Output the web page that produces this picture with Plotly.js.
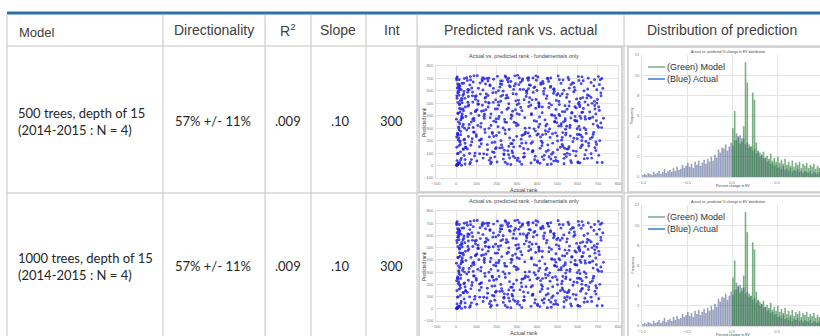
<!DOCTYPE html>
<html><head><meta charset="utf-8">
<script src="https://cdn.plot.ly/plotly-3.0.1.min.js"></script>
<style>html,body{margin:0;padding:0;overflow:hidden;background:#fff;width:820px;height:336px}#chart{width:840px;height:336px}</style>
</head><body><div id="chart"></div>
<script>
// ---------- data ----------
const headers = ["Model", "Directionality", "R<sup>2</sup>", "Slope", "Int", "Predicted rank vs. actual", "Distribution of prediction"];
const modelNames = ["500 trees, depth of 15<br>(2014-2015 : N = 4)", "1000 trees, depth of 15<br>(2014-2015 : N = 4)"];
const directionality = ["57% +/- 11%", "57% +/- 11%"];
const rSquared = [".009", ".009"];
const slope = [".10", ".10"];
const intercept = ["300", "300"];

const actualRank = [
 5,12,8,20,33,15,27,41,9,18,36,24,3,45,30,11,22,38,14,6,28,43,17,35,2,25,40,10,19,32,7,46,21,13,37,29,4,16,44,26,
 1,3,6,9,12,15,4,8,
 52,67,81,95,58,73,88,62,99,77,55,91,70,84,60,97,64,79,93,57,86,75,
 104,118,132,146,110,125,139,107,143,121,115,136,102,128,149,112,141,124,133,108,
 153,167,181,195,158,172,186,162,199,177,155,191,170,184,160,197,164,179,193,157,
 204,218,232,246,210,225,239,207,243,221,215,236,202,228,249,212,241,224,233,208,
 253,267,281,295,258,272,286,262,299,277,255,291,270,284,260,297,264,279,293,257,
 304,318,332,346,310,325,339,307,343,321,315,336,302,328,349,312,341,324,333,308,
 353,367,381,395,358,372,386,362,399,377,355,391,370,384,360,397,364,379,393,357,
 404,418,432,446,410,425,439,407,443,421,415,436,402,428,449,412,441,424,433,408,
 453,467,481,495,458,472,486,462,499,477,455,491,470,484,460,497,464,479,493,457,
 504,518,532,546,510,525,539,507,543,521,515,536,502,528,549,512,541,524,533,508,
 553,567,581,595,558,572,586,562,599,577,555,591,570,584,560,597,564,579,593,557,
 604,618,632,646,610,625,639,607,643,621,615,636,602,628,649,612,641,624,633,608,
 653,667,681,695,658,672,686,662,699,677,655,691,670,684,660,697,
 703,712,720,708,725,716,705,728,710,722,
 23,145,388,612,77,501,259,690,34,433,178,566,301,12,655,219,472,95,347,623,58,284,539,167,705,406,131,587,242,48,
 316,562,89,204,677,451,27,370,138,602,263,519,41,685,187,427,306,71,548,230,642,385,110,493,16,270,715,164,455,336,
 582,119,448,253,36,667,327,491,154,604,70,372,221,536,18,693,282,410,99,575,345,197,626,52,468,242,719,129,389,527,
 198,437,62,591,314,129,663,256,508,38,379,611,172,476,293,87,549,216,698,402,147,524,31,358,637,276,80,459,183,616,
 28,356,510,236,686,123,414,572,64,290,633,191,482,9,341,558,107,675,264,430,142,598,47,319,531,209,652,376,88,474,
 649,271,14,503,185,369,115,545,298,621,55,417,228,680,163,451,27,333,587,246,708,93,396,519,152,620,309,44,485,212,
 409,72,541,287,637,18,333,196,493,607,121,445,251,563,39,380,690,168,524,232,60,466,324,593,140,715,276,426,99,650,
 259,487,33,629,174,357,546,82,418,283,667,135,501,220,608,67,392,161,471,10,297,580,241,694,116,363,537,186,443,622,
 103,312,567,22,425,260,683,145,375,598,66,497,209,641,349,13,533,179,453,279,617,82,394,548,225,704,158,488,37,337,
 559,194,426,57,673,301,482,125,614,249,21,399,538,170,657,84,361,514,238,588,44,413,270,695,140,467,325,612,75,527,
 2,7,11,4,16,9,1,13,6,19,3,10,22,5,14,8,18,12,2,25
];
const predictedRank = [
 712,640,585,520,455,690,380,300,245,190,130,610,560,470,415,350,275,205,160,95,660,540,495,330,230,60,700,600,430,385,260,145,110,625,575,505,40,20,12,3,
 2,5,10,14,18,22,0,6,
 705,648,590,532,476,419,361,302,248,190,133,77,25,672,555,440,330,215,100,612,268,48,
 722,663,607,549,493,436,379,322,265,208,151,94,37,690,575,402,290,175,60,520,
 700,641,586,528,471,414,357,299,241,184,127,70,15,620,505,350,230,110,455,680,
 717,655,598,541,484,427,370,312,256,199,142,86,29,680,565,395,285,165,52,510,
 690,633,577,520,463,406,348,290,233,176,119,62,8,612,497,340,222,102,448,672,
 725,670,612,555,498,441,384,326,269,212,155,98,41,695,580,410,300,180,67,525,
 702,645,588,531,474,417,360,303,246,189,132,75,20,625,510,355,235,115,460,685,
 712,652,596,538,481,424,367,310,253,196,139,82,26,675,560,390,280,160,48,505,
 695,638,580,523,466,409,352,294,237,180,123,66,12,615,500,345,225,105,450,675,
 720,660,605,547,490,433,376,318,261,204,147,90,33,688,572,400,292,170,58,515,
 708,650,592,535,478,421,364,306,249,192,135,78,22,628,513,358,238,118,462,690,
 715,658,600,543,486,429,372,314,257,200,143,86,28,682,567,396,288,166,54,508,
 702,668,640,610,560,500,455,380,320,250,180,120,60,690,430,25,
 715,690,700,650,620,560,470,380,200,25,
 366,512,47,288,623,198,702,415,133,574,266,39,489,311,157,680,91,433,595,228,509,149,361,647,82,253,705,473,27,394,
 612,88,269,455,333,701,540,178,397,23,641,318,211,482,105,247,59,687,453,566,124,295,621,380,458,176,583,42,273,529,
 219,574,332,12,440,95,683,263,168,497,715,408,556,139,614,360,75,470,233,664,181,375,546,285,53,720,305,484,632,155,
 143,620,487,358,30,679,215,545,410,596,120,472,322,256,657,381,98,630,531,37,448,225,313,706,392,117,560,71,508,244,
 528,262,689,94,143,339,18,427,608,721,302,187,613,419,255,152,495,389,61,658,542,215,148,467,351,602,486,111,721,404,
 58,378,287,578,693,485,202,72,319,426,683,230,143,267,503,9,396,137,606,710,443,555,686,336,88,159,650,178,596,265,
 499,163,245,640,512,637,247,588,41,684,310,113,452,324,81,704,189,385,577,302,233,628,10,114,697,342,399,183,559,615,
 87,401,563,458,27,617,316,372,663,203,547,440,128,517,250,13,277,701,486,206,573,662,349,169,95,545,432,234,318,713,
 448,704,382,248,70,154,516,655,528,296,97,567,377,193,602,652,15,258,165,436,379,510,721,132,652,307,562,352,661,70,
 622,135,471,589,227,417,36,213,539,347,170,603,480,61,378,306,648,560,122,395,48,332,675,502,412,704,241,20,350,265,
 702,655,590,541,488,420,373,302,250,198,147,97,44,623,565,507,336,221,688,455
];

// histogram: frequency per 0.02-wide bin of % change
const actualFreq = [
 0.2,0.3,0.2,0.4,0.3,0.2,0.5,0.3,0.4,0.6,0.3,0.5,0.8,0.4,0.6,
 0.7,0.5,0.9,0.6,1.0,0.7,0.8,1.2,0.9,1.1,
 1.4,1.0,1.3,0.9,1.5,1.2,1.6,1.1,1.4,1.7,
 1.3,1.8,1.5,2.0,1.6,2.2,1.9,2.7,2.4,2.9,
 2.8,3.2,2.6,3.0,3.4,
 3.1,3.6,4.3,3.9,4.1,3.5,3.8,3.2,3.4,2.9,
 3.0,2.6,2.8,2.3,2.5,2.0,2.2,1.8,1.9,1.5,
 1.6,1.3,1.4,1.1,1.2,0.9,1.0,0.8,1.1,0.7,
 0.8,0.6,0.9,0.5,0.7,0.6,0.8,0.5,0.6,0.4,
 0.6,0.5,0.4,0.6,0.3,0.5,0.4,0.3,0.5,0.4
];
const modelFreq = [
 4.8,6.5,3.6,4.0,3.3,3.8,5.0,11.3,9.3,3.2,
 3.0,8.3,7.6,3.4,2.6,2.4,2.2,2.5,1.9,2.1,
 1.8,2.3,1.6,1.9,1.5,2.0,1.4,1.7,1.3,1.8,
 1.2,1.5,1.1,1.6,1.0,1.4,1.2,1.5,0.9,1.3,
 1.1,1.4,0.9,1.2,1.0,1.3,0.8,1.1,0.9,1.0
];
const legendLabels = ["(Green) Model", "(Blue) Actual"];

// ---------- layout helpers ----------
const W = 840, H = 336;
const fx = x => x / W;
const fy = y => 1 - y / H;

const rows = [
  {text1: 113, sc: {t: 66, b: 178, title: 56, xt: 190, frame: [47, 192]}, hi: {t: 55, b: 177, title: 52, leg: [67, 79]}},
  {text1: 258, sc: {t: 211, b: 321, title: 201, xt: 333, frame: [196, 340]}, hi: {t: 205, b: 326, title: 202, leg: [217, 229]}}
];

const traces = [];
const layout = {
  width: W, height: H, margin: {l: 0, r: 0, t: 0, b: 0},
  paper_bgcolor: '#fff', plot_bgcolor: 'rgba(0,0,0,0)',
  showlegend: false, barmode: 'overlay', bargap: 0.12,
  font: {family: 'Liberation Sans, Arial, sans-serif', color: '#333'},
  shapes: [], annotations: []
};

const gridCol = '#e4e4e4';
const tickFont = {size: 4, color: '#777'};

rows.forEach((r, i) => {
  const xs = 'x' + (2 * i + 1), ys = 'y' + (2 * i + 1);
  const xh = 'x' + (2 * i + 2), yh = 'y' + (2 * i + 2);
  const xsKey = 'xaxis' + (i === 0 ? '' : 2 * i + 1);
  const ysKey = 'yaxis' + (i === 0 ? '' : 2 * i + 1);
  const xhKey = 'xaxis' + (2 * i + 2), yhKey = 'yaxis' + (2 * i + 2);

  traces.push({type: 'scatter', mode: 'markers', x: actualRank, y: predictedRank,
    xaxis: xs, yaxis: ys, marker: {size: 2.9, color: 'rgba(25,25,230,0.8)', line: {width: 0}}, hoverinfo: 'skip'});
  traces.push({type: 'bar', x0: -0.99, dx: 0.02, y: actualFreq, xaxis: xh, yaxis: yh,
    marker: {color: 'rgba(45,65,125,0.5)', line: {width: 0}}, hoverinfo: 'skip'});
  traces.push({type: 'bar', x0: 0.01, dx: 0.02, y: modelFreq, xaxis: xh, yaxis: yh,
    marker: {color: 'rgba(40,125,55,0.62)', line: {width: 0}}, hoverinfo: 'skip'});

  const common = {showgrid: true, gridcolor: gridCol, zeroline: false, ticks: '', tickfont: tickFont,
    ticklabelstandoff: 1, showline: true, linecolor: '#e0e0e0', fixedrange: true};
  layout[xsKey] = Object.assign({domain: [fx(436), fx(618)], range: [-100, 800], dtick: 100, anchor: ys, mirror: true}, common);
  layout[ysKey] = Object.assign({domain: [fy(r.sc.b), fy(r.sc.t)], range: [-100, 800], dtick: 100, anchor: xs, mirror: true}, common);
  layout[xhKey] = Object.assign({domain: [fx(642), fx(822)], range: [-1, 1], tickvals: [-1, -0.5, 0, 0.5], tickformat: '.1f', anchor: yh}, common);
  layout[yhKey] = Object.assign({domain: [fy(r.hi.b), fy(r.hi.t)], range: [0, 12], dtick: 2, anchor: xh}, common);

  // thumbnail frames
  layout.shapes.push({type: 'rect', xref: 'paper', yref: 'paper', layer: 'below',
    x0: fx(419), x1: fx(622), y0: fy(r.sc.frame[1]), y1: fy(r.sc.frame[0]), line: {color: '#c9c9c9', width: 1.5}, fillcolor: '#fff'});
  layout.shapes.push({type: 'rect', xref: 'paper', yref: 'paper', layer: 'below',
    x0: fx(628), x1: fx(838), y0: fy(r.sc.frame[1]), y1: fy(r.sc.frame[0]), line: {color: '#c9c9c9', width: 1.5}, fillcolor: '#fff'});

  // scatter titles
  layout.annotations.push({xref: 'paper', yref: 'paper', x: fx(524), y: fy(r.sc.title), text: 'Actual vs. predicted rank - fundamentals only',
    showarrow: false, font: {size: 5.5, color: '#444'}, xanchor: 'center', yanchor: 'middle'});
  layout.annotations.push({xref: 'paper', yref: 'paper', x: fx(524), y: fy(r.sc.xt), text: 'Actual rank',
    showarrow: false, font: {size: 5.5, color: '#444'}, xanchor: 'center', yanchor: 'middle'});
  layout.annotations.push({xref: 'paper', yref: 'paper', x: fx(424), y: fy((r.sc.t + r.sc.b) / 2), text: 'Predicted rank',
    showarrow: false, textangle: -90, font: {size: 4.5, color: '#444'}, xanchor: 'center', yanchor: 'middle'});

  // histogram titles
  layout.annotations.push({xref: 'paper', yref: 'paper', x: fx(728), y: fy(r.hi.title), text: 'Actual vs. predicted % change in EV distribution',
    showarrow: false, font: {size: 3.5, color: '#444'}, xanchor: 'center', yanchor: 'middle'});
  layout.annotations.push({xref: 'paper', yref: 'paper', x: fx(733), y: fy(r.hi.b + 9), text: 'Percent change in EV',
    showarrow: false, font: {size: 3.5, color: '#444'}, xanchor: 'center', yanchor: 'middle'});
  layout.annotations.push({xref: 'paper', yref: 'paper', x: fx(632), y: fy((r.hi.t + r.hi.b) / 2), text: 'Frequency',
    showarrow: false, textangle: -90, font: {size: 3.5, color: '#444'}, xanchor: 'center', yanchor: 'middle'});

  // histogram legend
  const legCols = ['#7fa68c', '#2f7fd6'];
  legendLabels.forEach((lab, k) => {
    const yy = r.hi.leg[k];
    layout.shapes.push({type: 'line', xref: 'paper', yref: 'paper', x0: fx(648), x1: fx(665), y0: fy(yy), y1: fy(yy),
      line: {color: legCols[k], width: 1.5}});
    layout.annotations.push({xref: 'paper', yref: 'paper', x: fx(665), y: fy(yy), text: lab, showarrow: false,
      font: {size: 9, color: '#333'}, xanchor: 'left', yanchor: 'middle'});
  });

  // table row text
  const bodyFont = {family: 'Lato, Open Sans, sans-serif', size: 13, color: '#262626'};
  const mid = r.text1 + 8;
  layout.annotations.push({xref: 'paper', yref: 'paper', x: fx(16), y: fy(mid), text: modelNames[i], showarrow: false,
    align: 'left', xanchor: 'left', yanchor: 'middle', font: bodyFont});
  [[213, directionality[i]], [288, rSquared[i]], [340, slope[i]], [391, intercept[i]]].forEach(([x, t]) => {
    layout.annotations.push({xref: 'paper', yref: 'paper', x: fx(x), y: fy(mid), text: t, showarrow: false,
      xanchor: 'center', yanchor: 'middle', font: bodyFont});
  });
});

// header text
const headX = [17, 214, 288, 338, 392, 520, 722];
headers.forEach((h, k) => {
  layout.annotations.push({xref: 'paper', yref: 'paper', x: fx(headX[k]), y: fy(k === 0 ? 32 : 30), text: h, showarrow: false,
    xanchor: k === 0 ? 'left' : 'center', yanchor: 'middle',
    font: {family: 'Liberation Sans, Arial, sans-serif', size: k === 0 ? 13 : 14, color: '#404040'}});
});

// table grid
layout.shapes.push({type: 'line', xref: 'paper', yref: 'paper', layer: 'below', x0: fx(7), x1: fx(W), y0: fy(13), y1: fy(13), line: {color: '#2e6fb0', width: 3}});
[46, 193].forEach(y => layout.shapes.push({type: 'line', xref: 'paper', yref: 'paper', layer: 'below',
  x0: fx(7), x1: fx(W), y0: fy(y), y1: fy(y), line: {color: '#c4c4c4', width: 1}}));
[7, 163, 265, 311, 366, 417, 624].forEach(x => layout.shapes.push({type: 'line', xref: 'paper', yref: 'paper', layer: 'below',
  x0: fx(x), x1: fx(x), y0: fy(15), y1: fy(H), line: {color: '#c4c4c4', width: 1}}));

Plotly.newPlot('chart', traces, layout, {staticPlot: true, displayModeBar: false});
</script></body></html>
